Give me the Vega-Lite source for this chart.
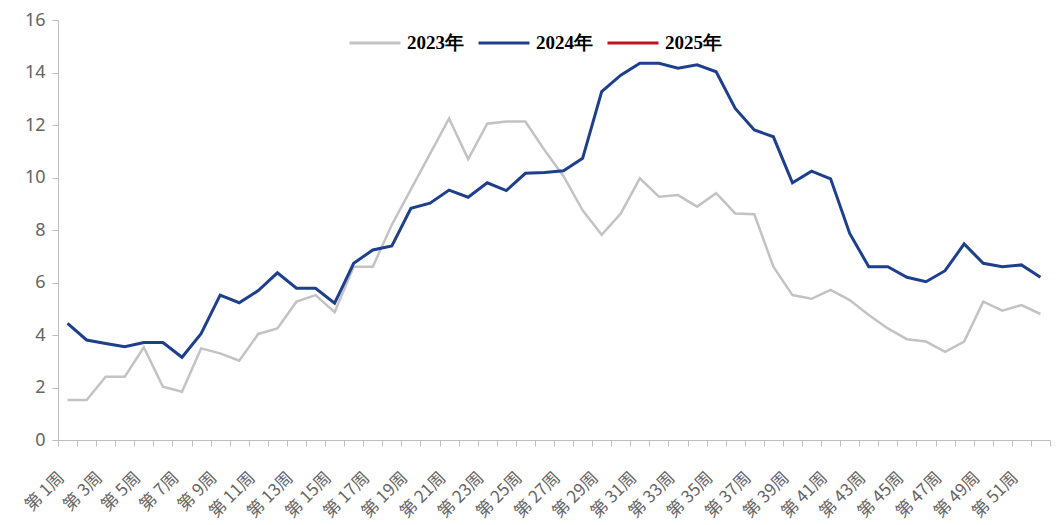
{
  "$schema": "https://vega.github.io/schema/vega-lite/v6.json",
  "width": 992,
  "height": 420,
  "autosize": {"type": "none"},
  "padding": {"left": 58, "top": 20, "right": 6, "bottom": 85},
  "background": "white",
  "config": {"view": {"stroke": null}},
  "data": {"values": [
    {"w":1,"y":"2023年","v":1.52},{"w":2,"y":"2023年","v":1.52},{"w":3,"y":"2023年","v":2.41},{"w":4,"y":"2023年","v":2.41},
    {"w":5,"y":"2023年","v":3.53},{"w":6,"y":"2023年","v":2.03},{"w":7,"y":"2023年","v":1.84},{"w":8,"y":"2023年","v":3.49},
    {"w":9,"y":"2023年","v":3.30},{"w":10,"y":"2023年","v":3.02},{"w":11,"y":"2023年","v":4.04},{"w":12,"y":"2023年","v":4.25},
    {"w":13,"y":"2023年","v":5.27},{"w":14,"y":"2023年","v":5.52},{"w":15,"y":"2023年","v":4.87},{"w":16,"y":"2023年","v":6.60},
    {"w":17,"y":"2023年","v":6.60},{"w":18,"y":"2023年","v":8.2},{"w":19,"y":"2023年","v":9.55},{"w":20,"y":"2023年","v":10.9},
    {"w":21,"y":"2023年","v":12.25},{"w":22,"y":"2023年","v":10.7},{"w":23,"y":"2023年","v":12.05},{"w":24,"y":"2023年","v":12.13},
    {"w":25,"y":"2023年","v":12.13},{"w":26,"y":"2023年","v":11.05},{"w":27,"y":"2023年","v":10.05},{"w":28,"y":"2023年","v":8.75},
    {"w":29,"y":"2023年","v":7.82},{"w":30,"y":"2023年","v":8.63},{"w":31,"y":"2023年","v":9.97},{"w":32,"y":"2023年","v":9.27},
    {"w":33,"y":"2023年","v":9.33},{"w":34,"y":"2023年","v":8.89},{"w":35,"y":"2023年","v":9.40},{"w":36,"y":"2023年","v":8.63},
    {"w":37,"y":"2023年","v":8.6},{"w":38,"y":"2023年","v":6.6},{"w":39,"y":"2023年","v":5.52},{"w":40,"y":"2023年","v":5.38},
    {"w":41,"y":"2023年","v":5.72},{"w":42,"y":"2023年","v":5.33},{"w":43,"y":"2023年","v":4.76},{"w":44,"y":"2023年","v":4.25},
    {"w":45,"y":"2023年","v":3.84},{"w":46,"y":"2023年","v":3.75},{"w":47,"y":"2023年","v":3.36},{"w":48,"y":"2023年","v":3.75},
    {"w":49,"y":"2023年","v":5.27},{"w":50,"y":"2023年","v":4.93},{"w":51,"y":"2023年","v":5.14},{"w":52,"y":"2023年","v":4.80},
    {"w":1,"y":"2024年","v":4.44},{"w":2,"y":"2024年","v":3.81},{"w":3,"y":"2024年","v":3.68},{"w":4,"y":"2024年","v":3.55},
    {"w":5,"y":"2024年","v":3.71},{"w":6,"y":"2024年","v":3.71},{"w":7,"y":"2024年","v":3.15},{"w":8,"y":"2024年","v":4.05},
    {"w":9,"y":"2024年","v":5.52},{"w":10,"y":"2024年","v":5.23},{"w":11,"y":"2024年","v":5.69},{"w":12,"y":"2024年","v":6.37},
    {"w":13,"y":"2024年","v":5.78},{"w":14,"y":"2024年","v":5.78},{"w":15,"y":"2024年","v":5.21},{"w":16,"y":"2024年","v":6.73},
    {"w":17,"y":"2024年","v":7.24},{"w":18,"y":"2024年","v":7.39},{"w":19,"y":"2024年","v":8.83},{"w":20,"y":"2024年","v":9.02},
    {"w":21,"y":"2024年","v":9.52},{"w":22,"y":"2024年","v":9.25},{"w":23,"y":"2024年","v":9.80},{"w":24,"y":"2024年","v":9.50},
    {"w":25,"y":"2024年","v":10.16},{"w":26,"y":"2024年","v":10.19},{"w":27,"y":"2024年","v":10.26},{"w":28,"y":"2024年","v":10.73},
    {"w":29,"y":"2024年","v":13.27},{"w":30,"y":"2024年","v":13.9},{"w":31,"y":"2024年","v":14.35},{"w":32,"y":"2024年","v":14.35},
    {"w":33,"y":"2024年","v":14.16},{"w":34,"y":"2024年","v":14.29},{"w":35,"y":"2024年","v":14.03},{"w":36,"y":"2024年","v":12.63},
    {"w":37,"y":"2024年","v":11.81},{"w":38,"y":"2024年","v":11.55},{"w":39,"y":"2024年","v":9.80},{"w":40,"y":"2024年","v":10.24},
    {"w":41,"y":"2024年","v":9.95},{"w":42,"y":"2024年","v":7.87},{"w":43,"y":"2024年","v":6.60},{"w":44,"y":"2024年","v":6.60},
    {"w":45,"y":"2024年","v":6.20},{"w":46,"y":"2024年","v":6.03},{"w":47,"y":"2024年","v":6.45},{"w":48,"y":"2024年","v":7.47},
    {"w":49,"y":"2024年","v":6.73},{"w":50,"y":"2024年","v":6.60},{"w":51,"y":"2024年","v":6.67},{"w":52,"y":"2024年","v":6.20}
  ]},
  "mark": {"type": "line", "interpolate": "linear"},
  "encoding": {
    "x": {
      "field": "w", "type": "ordinal", "bandPosition": 0.5,
      "scale": {"type": "band", "paddingInner": 0, "paddingOuter": 0},
      "axis": {
        "title": null, "tickBand": "extent", "labelAngle": -45, "labelAlign": "right", "labelBaseline": "bottom",
        "labelExpr": "datum.value % 2 == 1 ? '第 ' + datum.value + '周' : ''",
        "labelFont": "Noto Sans CJK SC", "labelFontSize": 17, "labelColor": "#666666",
        "labelPadding": 35, "labelOverlap": false,
        "domainColor": "#BFBFBF", "tickColor": "#BFBFBF", "tickSize": 6, "grid": false
      }
    },
    "y": {
      "field": "v", "type": "quantitative",
      "scale": {"domain": [0, 16], "nice": false},
      "axis": {
        "title": null, "values": [0,2,4,6,8,10,12,14,16], "grid": false,
        "labelFont": "Noto Sans", "labelFontSize": 18, "labelColor": "#666666", "labelPadding": 7,
        "domainColor": "#BFBFBF", "tickColor": "#BFBFBF", "tickSize": 6
      }
    },
    "color": {
      "field": "y", "type": "nominal",
      "scale": {"domain": ["2023年","2024年","2025年"], "range": ["#C3C3C3","#1E3F8C","#C0141E"]},
      "legend": {
        "title": null, "orient": "none", "legendX": 290, "legendY": -4, "direction": "horizontal",
        "symbolType": "stroke", "symbolSize": 2600, "symbolStrokeWidth": 3,
        "labelFont": "Liberation Serif", "labelFontWeight": "bold", "labelFontSize": 19, "labelColor": "#000000",
        "labelOffset": 5, "columnPadding": 8
      }
    },
    "strokeWidth": {"condition": {"test": "datum.y === '2024年'", "value": 3}, "value": 2.5}
  }
}
